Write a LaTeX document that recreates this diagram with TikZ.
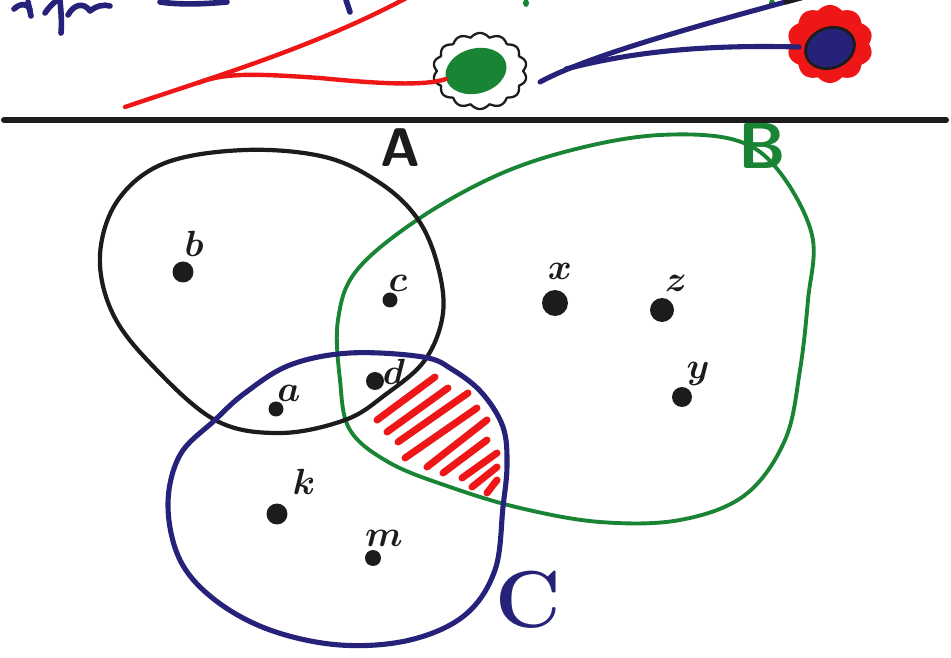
\documentclass[tikz,border=0pt]{standalone}
\usetikzlibrary{shapes.geometric}
\definecolor{inkblack}{RGB}{28,28,28}
\definecolor{inkgreen}{RGB}{24,132,52}
\definecolor{inkblue}{RGB}{38,34,122}
\definecolor{inkred}{RGB}{238,22,22}
\begin{document}
\begin{tikzpicture}[x=0.02cm, y=-0.02cm, line cap=round, line join=round,
  setA/.style={draw=inkblack, line width=2.4pt},
  setB/.style={draw=inkgreen, line width=2.2pt},
  setC/.style={draw=inkblue, line width=2.9pt},
  elem/.style={circle, fill=inkblack, inner sep=0pt},
  lab/.style={font=\fontsize{21}{24}\selectfont\boldmath, text=inkblack, inner sep=0pt},
  hatch/.style={draw=inkred, line width=4pt},
  redline/.style={draw=inkred, line width=2.5pt},
  blueline/.style={draw=inkblue, line width=2.9pt},
  script/.style={draw=inkblue, line width=3.2pt},
]
\useasboundingbox (0,0) rectangle (951,658);
\fill[white] (0,0) rectangle (951,658);
\begin{scope}
\clip (0,0) rectangle (951,658);

% ---------- upper band: handwriting fragments ----------
\draw[script] (14,9) .. controls (20,3) and (28,3) .. (30,10);
\draw[script] (28,2) -- (31,16);
\draw[script] (45,13) .. controls (50,6) and (54,2) .. (58,0);
\draw[script] (60,0) .. controls (61,12) and (62,22) .. (61,33);
\draw[script] (68,15) .. controls (74,4) and (84,2) .. (90,11) .. controls (96,6) and (104,4) .. (110,6);
\draw[script] (160,2) .. controls (180,5) and (205,4) .. (227,2);
\draw[script] (346,0) -- (350,12);
\fill[inkgreen] (526,3) ellipse (3 and 4);
\fill[inkgreen] (772,3) ellipse (3 and 4);

% ---------- seed with wavy shell ----------
\node[ellipse, fill=inkgreen, minimum width=1.24cm, minimum height=0.9cm,
      rotate=15, inner sep=0pt] (seed) at (476,71) {};
\draw[inkblack, line width=1.3pt]
  plot[smooth cycle, domain=0:358.2, samples=200, variable=\t]
  ({480+(43+4*abs(sin(7*\t)))*cos(\t)}, {71+(34+4*abs(sin(7*\t)))*sin(\t)});

% ---------- flower ----------
\fill[inkred]
  plot[smooth cycle, domain=0:358, samples=180, variable=\t]
  ({830+(39+4*abs(sin(5*\t)))*cos(\t)}, {44+(35+4*abs(sin(5*\t)))*sin(\t)});
\node[ellipse, fill=inkblue, draw=inkblack, line width=1.6pt,
      minimum width=1.0cm, minimum height=0.8cm, rotate=20, inner sep=0pt]
  (core) at (830,48) {};
\coordinate (petal) at (799,47);

% ---------- red branches ----------
\coordinate (rootR) at (125,107);
\coordinate (topR) at (412,-5);
\coordinate (forkR) at (198,83);
\draw[redline] (rootR) .. controls (220,75) and (320,45) .. (topR);
\draw[redline] (forkR) .. controls (225,72) and (260,74) .. (320,78)
  .. controls (380,84) and (425,86) .. (seed.west);

% ---------- blue branches ----------
\coordinate (tailB) at (540,82);
\coordinate (topB) at (815,-6);
\coordinate (forkB) at (566,69);
\draw[blueline] (tailB) .. controls (590,55) and (700,25) .. (topB);
\draw[blueline] (forkB) .. controls (620,55) and (690,44) .. (petal);
\draw[inkblack, line width=2.8pt] (786,2) -- (812,-5);

% ---------- dividing rule ----------
\coordinate (ruleL) at (4,120);
\coordinate (ruleR) at (946,120);
\draw[inkblack, line width=3.4pt] (ruleL) -- (ruleR);

% ---------- hatched region ----------
\draw[hatch] (377,420) -- (435,377);
\draw[hatch] (387,432) -- (448,388);
\draw[hatch] (398,442) -- (468,393);
\draw[hatch] (405,458) -- (477,408);
\draw[hatch] (427,467) -- (487,420);
\draw[hatch] (443,473) -- (487,440);
\draw[hatch] (462,478) -- (497,453);
\draw[hatch] (472,487) -- (497,467);
\draw[hatch] (487,493) -- (497,480);

% ---------- sets ----------
\draw[setB] plot[smooth cycle, tension=0.6] coordinates {
  (420,218) (500,174) (580,148) (660,135) (735,140) (778,170) (812,235)
  (808,300) (800,370) (785,440) (745,495) (680,520) (600,522) (520,508)
  (450,487) (390,463) (350,430) (340,380) (338,320) (357,270)};
\draw[setA] plot[smooth cycle, tension=0.6] coordinates {
  (417,218) (437,263) (443,313) (425,360) (385,395) (345,420) (280,433)
  (215,420) (150,363) (112,312) (100,255) (118,200) (165,163) (245,150)
  (325,157) (380,183)};
\draw[setC] plot[smooth cycle, tension=0.6] coordinates {
  (423,357) (453,370) (482,393) (503,427) (507,465) (503,507) (495,570)
  (465,615) (410,640) (340,645) (270,630) (215,600) (180,560) (168,505)
  (180,455) (215,420) (245,393) (290,365) (350,353)};

% ---------- set names ----------
\node[font=\sffamily\bfseries\fontsize{31}{34}\selectfont, text=inkblack, inner sep=0pt] (nameA) at (400,148) {A};
\node[font=\sffamily\bfseries\fontsize{37}{40}\selectfont, text=inkgreen, inner sep=0pt] (nameB) at (762,146) {B};
\node[font=\bfseries\fontsize{46}{50}\selectfont, text=inkblue, inner sep=0pt] (nameC) at (528,600) {C};

% ---------- elements ----------
\node[elem, minimum size=0.42cm] (pb) at (183,272) {};
\node[elem, minimum size=0.30cm] (pc) at (390,300) {};
\node[elem, minimum size=0.36cm] (pd) at (375,381) {};
\node[elem, minimum size=0.30cm] (pa) at (276,409) {};
\node[elem, minimum size=0.52cm] (px) at (555,303) {};
\node[elem, minimum size=0.48cm] (pz) at (662,310) {};
\node[elem, minimum size=0.40cm] (py) at (682,397) {};
\node[elem, minimum size=0.42cm] (pk) at (277,514) {};
\node[elem, minimum size=0.32cm] (pm) at (373,558) {};

\node[lab] (lb) at (194,244) {$b$};
\node[lab] (lc) at (398,283) {$c$};
\node[lab] (ld) at (394,372) {$d$};
\node[lab] (la) at (289,393) {$a$};
\node[lab] (lx) at (560,271) {$x$};
\node[lab] (lz) at (676,283) {$z$};
\node[lab] (ly) at (698,374) {$y$};
\node[lab] (lk) at (304,482) {$k$};
\node[lab] (lm) at (384,538) {$m$};
\end{scope}
\end{tikzpicture}
\end{document}
